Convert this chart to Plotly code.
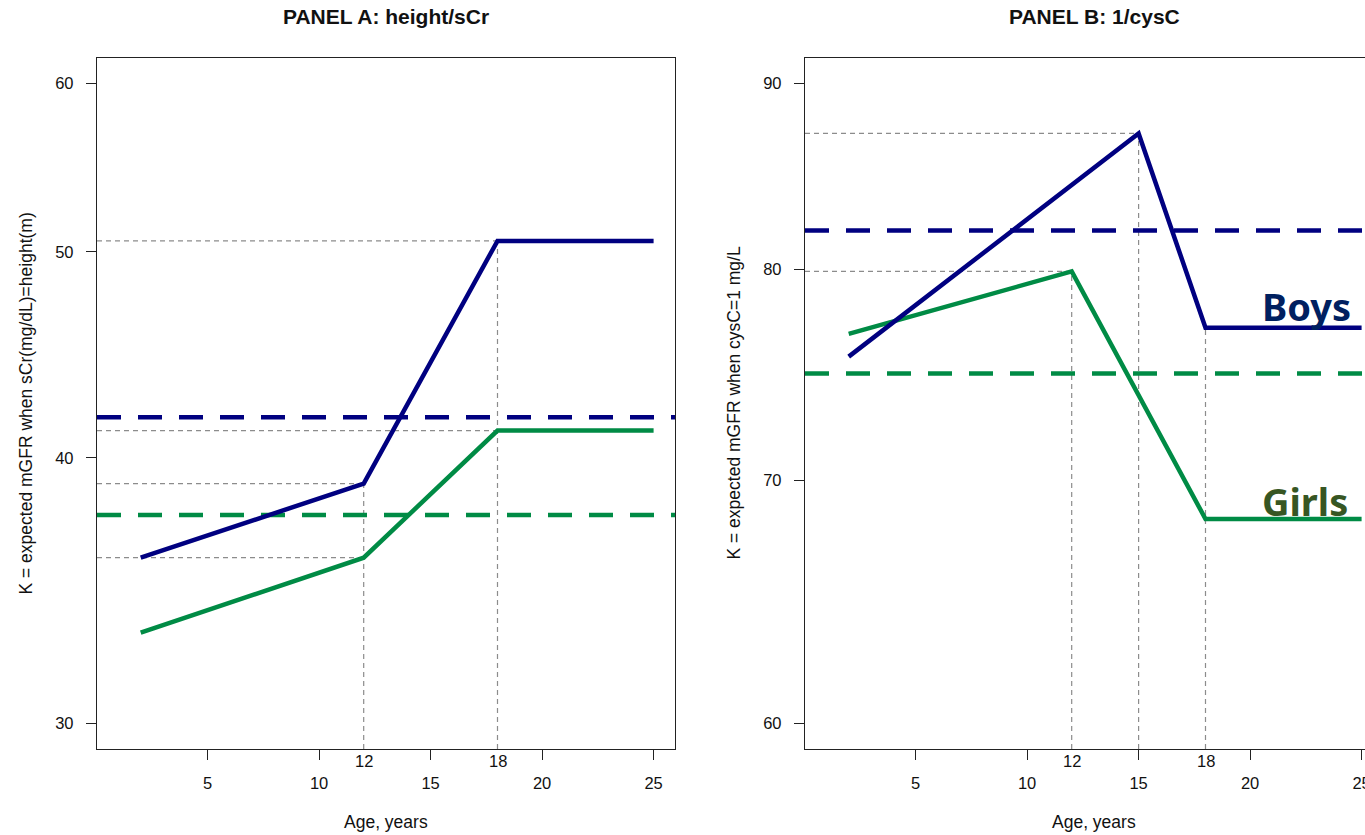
import math
import plotly.graph_objects as go

# ---------------- data ----------------
ages_a = [2, 12, 18, 25]
boys_a = [35.9, 38.9, 50.6, 50.6]
girls_a = [33.1, 35.9, 41.2, 41.2]
boys_a_overall = 41.8
girls_a_overall = 37.6

ages_b_boys = [2, 15, 18, 25]
boys_b = [75.7, 87.2, 77.1, 77.1]
ages_b_girls = [2, 12, 18, 25]
girls_b = [76.8, 79.9, 68.3, 68.3]
boys_b_overall = 82.0
girls_b_overall = 74.9

x_ticks = [5, 10, 15, 20, 25]
x_extra_ticks = [12, 18]
y_ticks_a = [30, 40, 50, 60]
y_ticks_b = [60, 70, 80, 90]
x_lim = [1, 25]
y_lim_a = [30, 60]
y_lim_b = [60, 90]

# ---------------- styling / geometry ----------------
W, H = 1365, 835
L, R, T, B = 97, 0, 58, 86
PW = W - L - R
PH = H - T - B
panel_w = 578
gapx = 805 - 97

NAVY = "#000080"
GREEN = "#008B45"
GREY = "#8C8C8C"
AXC = "#222222"
TXT = "#111111"
FONT = "Liberation Sans, Arial, sans-serif"

pad = 0.04 * (x_lim[1] - x_lim[0])
xr_a = [x_lim[0] - pad, x_lim[1] + pad]
xr_b = [xr_a[0], xr_a[0] + (W - 805) / panel_w * (xr_a[1] - xr_a[0])]


def log_range(lim):
    d = math.log10(lim[1]) - math.log10(lim[0])
    return [math.log10(lim[0]) - 0.04 * d, math.log10(lim[1]) + 0.04 * d]


yr_a = log_range(y_lim_a)
yr_b = log_range(y_lim_b)
ybot_a = 10 ** yr_a[0]
ybot_b = 10 ** yr_b[0]

fig = go.Figure()


def add_line(x, y, color, xa, ya, dash="solid", width=4.5):
    fig.add_trace(go.Scatter(x=x, y=y, mode="lines", xaxis=xa, yaxis=ya,
                             line=dict(color=color, width=width, dash=dash),
                             showlegend=False, hoverinfo="skip"))


# ---- Panel A reference guides ----
guide_dash = "5px,4px"
for val, xe in [(boys_a[0], ages_a[1]), (boys_a[1], ages_a[1]),
                (girls_a[2], ages_a[2]), (boys_a[2], ages_a[2])]:
    add_line([xr_a[0], xe], [val, val], GREY, "x", "y", guide_dash, 1.2)
for xv, val in [(ages_a[1], boys_a[1]), (ages_a[2], boys_a[2])]:
    add_line([xv, xv], [ybot_a, val], GREY, "x", "y", guide_dash, 1.2)

# ---- Panel B reference guides ----
for val, xe in [(boys_b[1], ages_b_boys[1]), (girls_b[1], ages_b_girls[1])]:
    add_line([xr_b[0], xe], [val, val], GREY, "x2", "y2", guide_dash, 1.2)
for xv, val in [(ages_b_girls[1], girls_b[1]), (ages_b_boys[1], boys_b[1]),
                (ages_b_boys[2], boys_b[2])]:
    add_line([xv, xv], [ybot_b, val], GREY, "x2", "y2", guide_dash, 1.2)

# ---- overall dashed lines ----
big_dash = "24px,17px"
add_line(xr_a, [boys_a_overall] * 2, NAVY, "x", "y", big_dash)
add_line(xr_a, [girls_a_overall] * 2, GREEN, "x", "y", big_dash)
add_line(xr_a, [boys_b_overall] * 2, NAVY, "x2", "y2", big_dash)
add_line(xr_a, [girls_b_overall] * 2, GREEN, "x2", "y2", big_dash)

# ---- main curves ----
add_line(ages_a, girls_a, GREEN, "x", "y")
add_line(ages_a, boys_a, NAVY, "x", "y")
add_line(ages_b_girls, girls_b, GREEN, "x2", "y2")
add_line(ages_b_boys, boys_b, NAVY, "x2", "y2")

tickfont = dict(family=FONT, size=16.5, color=TXT)
common_x = dict(tickmode="array", tickvals=x_ticks, ticktext=[str(v) for v in x_ticks],
                ticks="outside", ticklen=10, tickwidth=1, tickcolor=AXC,
                showgrid=False, zeroline=False, showline=True, linecolor=AXC,
                linewidth=1.3, mirror=True, tickfont=tickfont, ticklabelstandoff=9,
                ticklabeloverflow="allow", automargin=False)
common_y = dict(type="log", ticks="outside", ticklen=10, tickwidth=1, tickcolor=AXC,
                showgrid=False, zeroline=False, showline=True, linecolor=AXC,
                linewidth=1.3, tickfont=tickfont, ticklabelstandoff=9, automargin=False)

fig.update_layout(
    width=W, height=H,
    margin=dict(l=L, r=R, t=T, b=B, pad=0, autoexpand=False),
    paper_bgcolor="white", plot_bgcolor="white",
    font=dict(family=FONT, color=TXT),
    xaxis=dict(domain=[0, panel_w / PW], range=xr_a, anchor="y", **common_x),
    yaxis=dict(domain=[0, 1], range=yr_a, anchor="x", mirror=True,
               tickvals=y_ticks_a, ticktext=[str(v) for v in y_ticks_a], **common_y),
    xaxis2=dict(domain=[gapx / PW, 1], range=xr_b, anchor="y2", **common_x),
    yaxis2=dict(domain=[0, 1], range=yr_b, anchor="x2", mirror=False,
                tickvals=y_ticks_b, ticktext=[str(v) for v in y_ticks_b], **common_y),
    showlegend=False,
)


def py(pix):
    return (H - B - pix) / PH


ann = []
mid_a = (xr_a[0] + xr_a[1]) / 2
title_font = dict(family=FONT, size=21, color=TXT)
label_font = dict(family=FONT, size=17.5, color=TXT)
ann.append(dict(text="<b>PANEL A: height/sCr</b>", xref="x", x=mid_a, yref="paper", y=py(17),
                showarrow=False, font=title_font, xanchor="center", yanchor="middle"))
ann.append(dict(text="<b>PANEL B: 1/cysC</b>", xref="x2", x=mid_a, yref="paper", y=py(17),
                showarrow=False, font=title_font, xanchor="center", yanchor="middle"))
for xr in ["x", "x2"]:
    ann.append(dict(text="Age, years", xref=xr, x=mid_a, yref="paper", y=py(822),
                    showarrow=False, font=label_font, xanchor="center", yanchor="middle"))
    for v in x_extra_ticks:
        ann.append(dict(text=str(v), xref=xr, x=v, yref="paper", y=py(761),
                        showarrow=False, font=tickfont, xanchor="center", yanchor="middle"))
ann.append(dict(text="K = expected mGFR when sCr(mg/dL)=height(m)", xref="paper",
                x=(25 - L) / PW, yref="paper", y=0.5, textangle=-90, showarrow=False,
                font=label_font, xanchor="center", yanchor="middle"))
ann.append(dict(text="K = expected mGFR when cysC=1 mg/L", xref="paper",
                x=(733 - L) / PW, yref="paper", y=0.5, textangle=-90, showarrow=False,
                font=label_font, xanchor="center", yanchor="middle"))
ann.append(dict(text="<b>Boys</b>", xref="paper", x=(1353 - L) / PW, yref="paper", y=py(306),
                showarrow=False, font=dict(family="Noto Sans", size=38, color="#002060"),
                xanchor="right", yanchor="middle"))
ann.append(dict(text="<b>Girls</b>", xref="paper", x=(1350 - L) / PW, yref="paper", y=py(501),
                showarrow=False, font=dict(family="Noto Sans", size=38, color="#375623"),
                xanchor="right", yanchor="middle"))

fig.update_layout(annotations=ann)
fig.write_html("out.html")
